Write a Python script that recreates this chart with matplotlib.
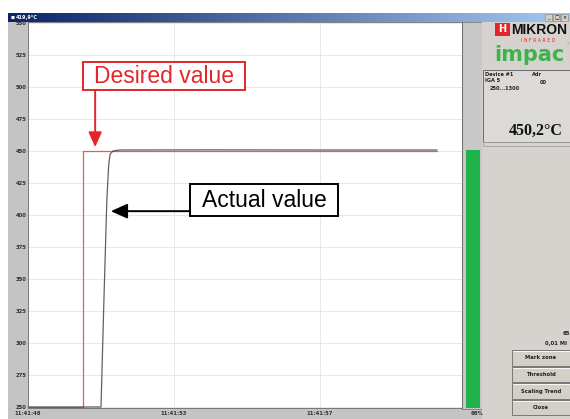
import numpy as np
import matplotlib
matplotlib.use('Agg')
from matplotlib import pyplot as plt
from matplotlib.patches import Rectangle

# data: seconds after 11:41:48, temperature in deg C
t_desired = [0.0, 1.51, 1.51, 11.2]
v_desired = [250, 250, 450, 450]

t_actual = [0.0, 1.97, 2.0, 2.08, 2.16, 2.21, 2.25, 2.33, 2.52, 5.0, 8.0, 11.2]
v_actual = [250, 250, 250, 333.6, 411.7, 439, 447.7, 450, 450.8, 450.9, 450.8, 450.8]

x_ticks = [0, 4, 8]
x_labels = ['11:41:48', '11:41:53', '11:41:57']
y_ticks = [250, 275, 300, 325, 350, 375, 400, 425, 450, 475, 500, 525, 550]

buttons = ['Mark zone', 'Threshold', 'Scaling Trend', 'Close']

W, H = 570, 419
RED = '#e3262a'
GREY = '#c4c4c4'
PANEL = '#d6d3ce'

fig = plt.figure(figsize=(W / 100, H / 100), dpi=100)
fig.patch.set_facecolor('white')

# background "window" drawn in pixel coordinates
bg = fig.add_axes([0, 0, 1, 1], zorder=0)
bg.set_xlim(0, W)
bg.set_ylim(H, 0)
bg.axis('off')


def box(x0, y0, x1, y1, fc, ec='none', lw=0.6, z=1):
    bg.add_patch(Rectangle((x0, y0), x1 - x0, y1 - y0, fc=fc, ec=ec, lw=lw, zorder=z))


# title bar gradient
grad = np.linspace(0, 1, 256).reshape(1, -1)
cmap = matplotlib.colors.LinearSegmentedColormap.from_list('tb', ['#0a246a', '#a6caf0'])
bg.imshow(grad, extent=[8, W, 22, 13], aspect='auto', cmap=cmap, zorder=1)
bg.text(11, 17.5, '\u25a0', color='white', fontsize=3, va='center', zorder=2)
bg.text(16, 17.5, '419,9°C', color='white', fontsize=3.6, fontweight='bold', va='center', zorder=2)
for i, s in enumerate(['_', '□', '×']):
    box(545 + i * 8, 14, 552 + i * 8, 21, '#d4d0c8', '#808080', 0.4, z=2)
    bg.text(548.5 + i * 8, 17.5, s, fontsize=3.5, ha='center', va='center', zorder=3)

# grey frames
box(8, 22, 28, 419, GREY)
box(8, 408, 482, 419, GREY)
box(462, 22, 482, 409, '#c8c8c8', '#7a7a7a', 0.6)
box(466, 150, 480, 408, '#1fb14a')
box(482, 22, W, 419, PANEL)
bg.text(477, 413.5, '66%', fontsize=3.8, fontweight='bold', ha='center', va='center', color='#303030')

# logo
box(495, 23, 510, 36, '#e3262a', z=2)
bg.text(502.5, 29.5, 'H', color='white', fontsize=7, fontweight='bold', ha='center', va='center', zorder=3)
bg.text(511, 29.5, 'MIKRON', fontsize=10, fontweight='bold', ha='left', va='center', color='#111111',
        family='Liberation Sans', zorder=3)
bg.text(538, 40, 'I N F R A R E D', fontsize=3.3, color='#e3262a', ha='center', va='center', zorder=3)
bg.text(529, 55, 'impac', fontsize=15, fontweight='bold', color='#3cb44b', ha='center', va='center',
        family='DejaVu Sans', zorder=3)
bg.text(568, 45, '°', fontsize=4, color='#3cb44b', ha='center', va='center', zorder=3)

# device info box
box(483, 70, W, 142, '#dcdad6', '#6a6a6a', 0.7)
box(483, 142, W, 146, PANEL, '#9a9a9a', 0.5)
info = [(485, 74, 'Device #1'), (532, 74, 'Adr'), (485, 81, 'IGA 5'), (540, 82, '00'), (490, 89, '250...1300')]
for x, y, s in info:
    bg.text(x, y, s, fontsize=3.6, fontweight='bold', va='center', color='#202020', zorder=3)
bg.text(536, 131, '450,2°C', fontsize=11.5, fontweight='bold', family='Liberation Serif',
        ha='center', va='center', color='#111111', zorder=3)

bg.text(570, 333, '65', fontsize=3.8, fontweight='bold', ha='right', va='center', color='#202020')
bg.text(545, 343, '0,01 MI', fontsize=3.8, fontweight='bold', ha='left', va='center', color='#202020')

# buttons
for i, s in enumerate(buttons):
    y0 = 350 + i * 16.6
    box(512, y0, 572, y0 + 15.6, '#d4d0c8', '#6a6a6a', 0.6, z=2)
    bg.plot([513, 571], [y0 + 1, y0 + 1], color='white', lw=0.6, zorder=3)
    bg.text(541, y0 + 7.8, s, fontsize=3.8, fontweight='bold', ha='center', va='center', color='#202020', zorder=3)

# main trend plot
ax = fig.add_axes([28 / W, 1 - 408 / H, (462 - 28) / W, (408 - 22) / H], zorder=2)
ax.set_facecolor('white')
ax.set_xlim(0, (462 - 28) / 36.5)
ax.set_ylim(249.2, 550.8)
ax.set_xticks(x_ticks)
ax.set_xticklabels(x_labels)
ax.set_yticks(y_ticks)
ax.set_yticklabels([str(v) for v in y_ticks])
ax.tick_params(length=0, labelsize=3.8, colors='#303030', pad=1.2)
for lab in ax.get_xticklabels() + ax.get_yticklabels():
    lab.set_fontweight('bold')
ax.tick_params(axis='x', pad=2)
ax.grid(True, color='#e4e4e4', lw=0.6)
ax.set_axisbelow(True)
for sp in ax.spines.values():
    sp.set_color('#6a6a6a')
    sp.set_linewidth(0.6)

ax.plot(t_desired, v_desired, color='#ec5a5a', lw=0.9, zorder=3)
ax.plot(t_actual, v_actual, color='#3a3a3a', lw=0.9, alpha=0.8, zorder=4)

# annotations
ax.add_patch(Rectangle((1.51, 497.7), 4.44, 21.8, fc='white', ec=RED, lw=1.4, zorder=5))
ax.text(3.73, 508.6, 'Desired value', color=RED, fontsize=16.5, family='Liberation Sans',
        ha='center', va='center', zorder=6)
ax.annotate('', xy=(1.84, 453), xytext=(1.84, 497.7),
            arrowprops=dict(arrowstyle='-|>,head_length=0.9,head_width=0.4', color=RED, lw=1.4,
                            shrinkA=0, shrinkB=0), zorder=6)

ax.add_patch(Rectangle((4.44, 399.2), 4.05, 25.0, fc='white', ec='black', lw=1.4, zorder=5))
ax.text(6.47, 411.7, 'Actual value', color='black', fontsize=16.5, family='Liberation Sans',
        ha='center', va='center', zorder=6)
ax.annotate('', xy=(2.27, 403), xytext=(4.44, 403),
            arrowprops=dict(arrowstyle='-|>,head_length=1.0,head_width=0.45', color='black', lw=1.4,
                            shrinkA=0, shrinkB=0), zorder=6)

fig.savefig('out.png', dpi=100)
